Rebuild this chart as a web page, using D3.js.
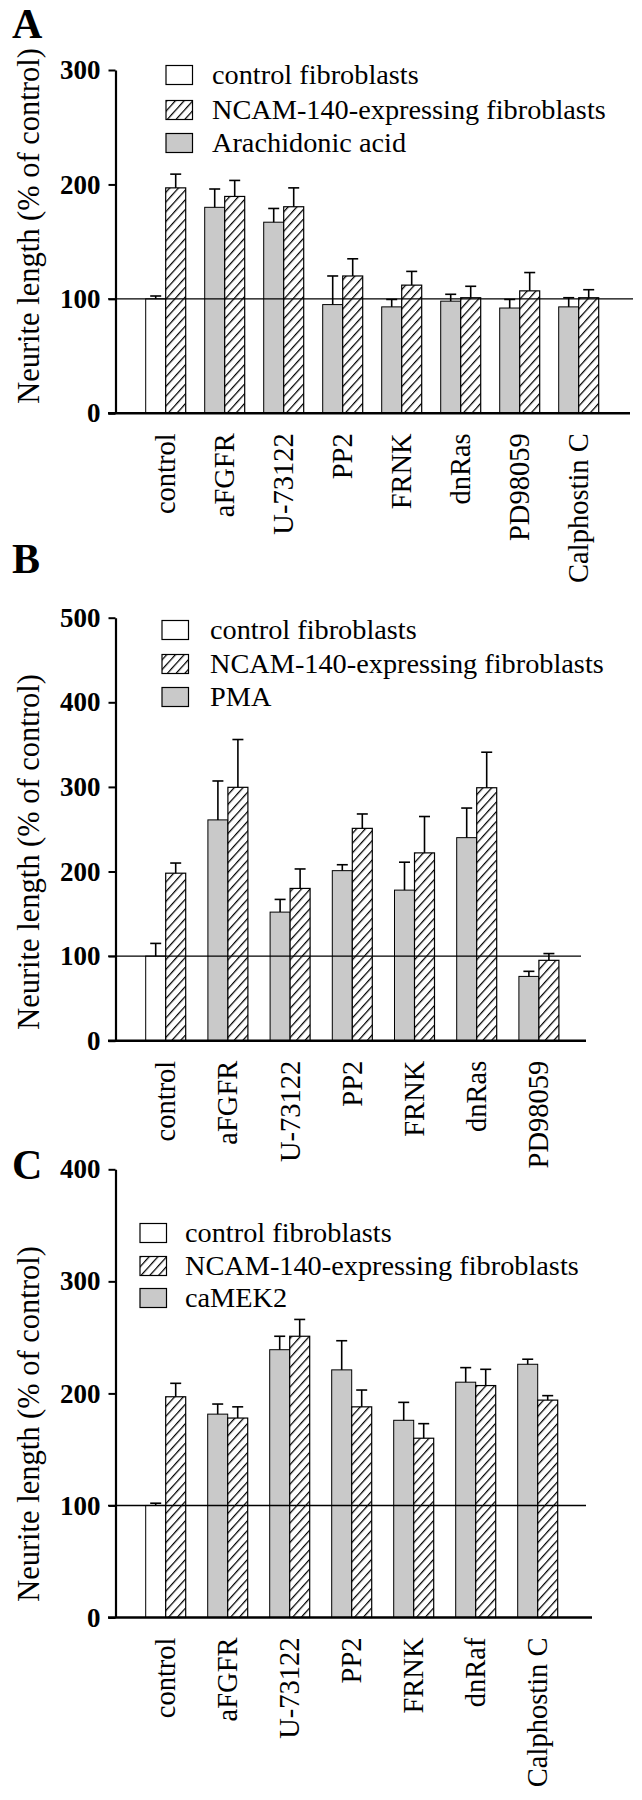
<!DOCTYPE html>
<html>
<head>
<meta charset="utf-8">
<script src="https://cdn.jsdelivr.net/npm/d3@7"></script>
<style>
  html, body { margin: 0; padding: 0; background: #fff; }
  svg { display: block; }
  text { font-family: "Liberation Serif", "Times New Roman", serif; fill: #000; }
</style>
</head>
<body>
<svg id="chart" width="642" height="1800"></svg>
<script>
// ---------- DATA ----------
const legendSeries = ["control fibroblasts", "NCAM-140-expressing fibroblasts"];

// Panel A
const catsA = ["control", "aFGFR", "U-73122", "PP2", "FRNK", "dnRas", "PD98059", "Calphostin C"];
const treatA = "Arachidonic acid";
const leftA = [100, 180, 167, 95, 93, 98, 92, 93];
const leftErrA = [2.5, 16, 12, 25, 6.5, 6, 7.5, 8];
const rightA = [197, 189.5, 180.5, 120, 112, 101, 107, 101];
const rightErrA = [12, 14, 16.5, 15, 12, 10, 16, 7];
const ticksA = [0, 100, 200, 300];

// Panel B
const catsB = ["control", "aFGFR", "U-73122", "PP2", "FRNK", "dnRas", "PD98059"];
const treatB = "PMA";
const leftB = [100, 261, 152, 201, 178, 240, 76];
const leftErrB = [15, 46, 15, 7, 33, 35, 6];
const rightB = [198, 299.5, 180, 251, 222, 299, 95];
const rightErrB = [12, 56.5, 23, 17, 43, 42, 8];
const ticksB = [0, 100, 200, 300, 400, 500];

// Panel C
const catsC = ["control", "aFGFR", "U-73122", "PP2", "FRNK", "dnRaf", "Calphostin C"];
const treatC = "caMEK2";
const leftC = [100, 181.5, 239, 221, 176, 210, 226];
const leftErrC = [2, 9, 12, 26, 16, 13, 4.5];
const rightC = [197, 178, 251, 188, 160, 207, 194];
const rightErrC = [12, 10, 15, 15, 13, 14.5, 4];
const ticksC = [0, 100, 200, 300, 400];

const yTitle = "Neurite length (% of control)";

// ---------- LAYOUT ----------
const panels = [
  { letter: "A", letterY: 38, cats: catsA, left: leftA, leftErr: leftErrA, right: rightA, rightErr: rightErrA,
    ticks: ticksA, treat: treatA, yMax: 300, y0: 413.3, y1: 70, xFirst: 165.7, step: 59, axisEnd: 630, refEnd: 633,
    legX: 166, legTextX: 212, legY: [75, 110, 143], titleY: 226 },
  { letter: "B", letterY: 573, cats: catsB, left: leftB, leftErr: leftErrB, right: rightB, rightErr: rightErrB,
    ticks: ticksB, treat: treatB, yMax: 500, y0: 1040.7, y1: 617.7, xFirst: 165.7, step: 62.2, axisEnd: 586, refEnd: 581,
    legX: 162, legTextX: 210, legY: [630, 664, 697], titleY: 852 },
  { letter: "C", letterY: 1179, cats: catsC, left: leftC, leftErr: leftErrC, right: rightC, rightErr: rightErrC,
    ticks: ticksC, treat: treatC, yMax: 400, y0: 1617.5, y1: 1169.3, xFirst: 165.7, step: 62, axisEnd: 592, refEnd: 586,
    legX: 140, legTextX: 185, legY: [1233, 1266, 1298], titleY: 1424 }
];

const svg = d3.select("#chart");
svg.append("rect").attr("width", 642).attr("height", 1800).attr("fill", "#fff");

const defs = svg.append("defs");
const hatch = defs.append("pattern")
  .attr("id", "hatch").attr("patternUnits", "userSpaceOnUse")
  .attr("width", 6.5).attr("height", 6.5)
  .attr("patternTransform", "rotate(42)");
hatch.append("rect").attr("width", 6.5).attr("height", 6.5).attr("fill", "#fff");
hatch.append("line").attr("x1", 0).attr("y1", -1).attr("x2", 0).attr("y2", 8)
  .attr("stroke", "#000").attr("stroke-width", 2.5);

const GRAY = "#c9c9c9";
const AXIS_X = 115.5;

panels.forEach(p => {
  const g = svg.append("g");
  const y = d3.scaleLinear().domain([0, p.yMax]).range([p.y0, p.y1]);
  const n = p.cats.length;
  const pad = 1 - 40 / p.step;
  const x = d3.scaleBand().domain(p.cats)
    .range([p.xFirst - p.step / 2, p.xFirst - p.step / 2 + n * p.step])
    .paddingInner(pad).paddingOuter(pad / 2);
  const xs = d3.scaleBand().domain(["left", "right"]).range([0, x.bandwidth()]);

  const rows = p.cats.map((c, i) => ({ c, i, l: p.left[i], le: p.leftErr[i], r: p.right[i], re: p.rightErr[i] }));

  // bars
  const grp = g.selectAll("g.grp").data(rows).join("g").attr("transform", d => `translate(${x(d.c)},0)`);
  grp.append("rect")
    .attr("x", xs("left")).attr("width", xs.bandwidth())
    .attr("y", d => y(d.l)).attr("height", d => y(0) - y(d.l))
    .attr("fill", d => d.i === 0 ? "#fff" : GRAY)
    .attr("stroke", "#000").attr("stroke-width", 1);
  grp.append("rect")
    .attr("x", xs("right")).attr("width", xs.bandwidth())
    .attr("y", d => y(d.r)).attr("height", d => y(0) - y(d.r))
    .attr("fill", "url(#hatch)")
    .attr("stroke", "#000").attr("stroke-width", 1.2);

  // reference line at 100
  g.append("line").attr("x1", 108).attr("x2", p.refEnd)
    .attr("y1", y(100)).attr("y2", y(100))
    .attr("stroke", "#000").attr("stroke-width", 1.4);

  // error bars
  const cap = 5.5;
  [["left", "l", "le"], ["right", "r", "re"]].forEach(([k, v, e]) => {
    const eb = grp.append("g").attr("stroke", "#000").attr("stroke-width", 1.6);
    eb.append("line")
      .attr("x1", xs(k) + xs.bandwidth() / 2).attr("x2", xs(k) + xs.bandwidth() / 2)
      .attr("y1", d => y(d[v])).attr("y2", d => y(d[v] + d[e]));
    eb.append("line")
      .attr("x1", xs(k) + xs.bandwidth() / 2 - cap).attr("x2", xs(k) + xs.bandwidth() / 2 + cap)
      .attr("y1", d => y(d[v] + d[e])).attr("y2", d => y(d[v] + d[e]));
  });

  // y axis
  const ya = g.append("g").attr("transform", `translate(${AXIS_X},0)`)
    .call(d3.axisLeft(y).tickValues(p.ticks).tickSize(7).tickSizeOuter(0).tickPadding(8).tickFormat(d3.format("d")));
  ya.select(".domain").attr("stroke-width", 2.2);
  ya.selectAll(".tick line").attr("stroke-width", 2);
  ya.selectAll(".tick text").attr("font-size", 27).attr("font-weight", "bold").attr("fill", "#000");

  // x baseline
  g.append("line").attr("x1", 108).attr("x2", p.axisEnd)
    .attr("y1", y(0)).attr("y2", y(0))
    .attr("stroke", "#000").attr("stroke-width", 2.6);

  // x axis labels
  const xa = g.append("g").attr("transform", `translate(0,${y(0)})`)
    .call(d3.axisBottom(x).tickSize(0));
  xa.select(".domain").remove();
  xa.selectAll(".tick text")
    .attr("transform", "rotate(-90)")
    .attr("text-anchor", "end")
    .attr("x", -20).attr("y", 0).attr("dy", "0.33em")
    .attr("font-size", 28.5).attr("fill", "#000");

  // y title
  g.append("text")
    .attr("transform", `translate(39,${p.titleY}) rotate(-90)`)
    .attr("text-anchor", "middle")
    .attr("font-size", 30.5)
    .text(yTitle);

  // panel letter
  g.append("text").attr("x", 12).attr("y", p.letterY)
    .attr("font-size", 42).attr("font-weight", "bold").text(p.letter);

  // legend
  const legItems = [
    { label: legendSeries[0], fill: "#fff" },
    { label: legendSeries[1], fill: "url(#hatch)" },
    { label: p.treat, fill: GRAY }
  ];
  const lg = g.selectAll("g.leg").data(legItems).join("g")
    .attr("transform", (d, i) => `translate(0,${p.legY[i]})`);
  lg.append("rect").attr("x", p.legX).attr("y", -9.5).attr("width", 26.5).attr("height", 19)
    .attr("fill", d => d.fill).attr("stroke", "#000").attr("stroke-width", 1.2);
  lg.append("text").attr("x", p.legTextX).attr("y", 0).attr("dy", "0.33em")
    .attr("font-size", 28.3).text(d => d.label);
});
</script>
</body>
</html>
